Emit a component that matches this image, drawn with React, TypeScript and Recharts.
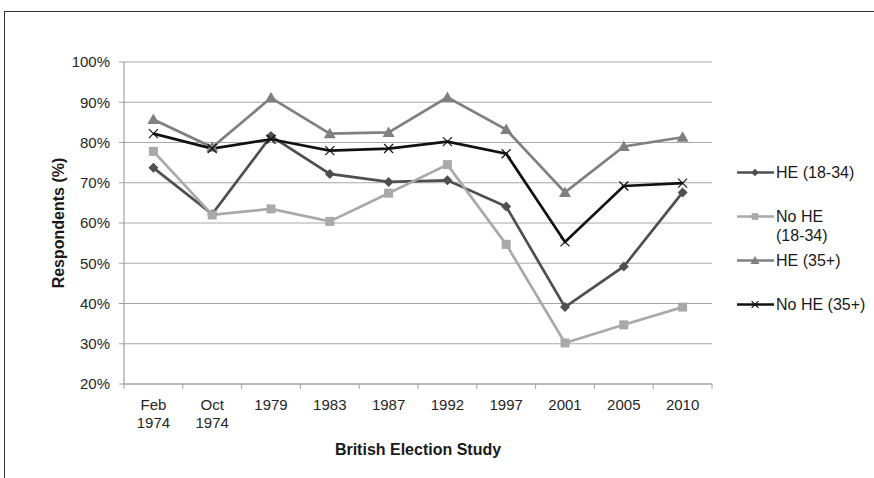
import React from "react";
import {
  LineChart,
  Line,
  XAxis,
  YAxis,
  CartesianGrid,
} from "recharts";

// British Election Study rounds
const studies = ["Feb 1974", "Oct 1974", "1979", "1983", "1987", "1992", "1997", "2001", "2005", "2010"];

// Respondents (%) per group
const heYoung = [73.7, 62.2, 81.6, 72.2, 70.2, 70.6, 64.1, 39.1, 49.2, 67.6];
const noHeYoung = [77.8, 62.0, 63.5, 60.4, 67.4, 74.5, 54.7, 30.2, 34.7, 39.1];
const heOld = [85.7, 78.8, 91.1, 82.2, 82.5, 91.2, 83.2, 67.6, 79.0, 81.3];
const noHeOld = [82.2, 78.5, 80.8, 78.0, 78.5, 80.2, 77.2, 55.3, 69.2, 69.9];

const yTicks = [20, 30, 40, 50, 60, 70, 80, 90, 100];

const FONT = '"Liberation Sans", Arial, sans-serif';

type Marker = "diamond" | "square" | "triangle" | "cross";

interface SeriesDef {
  key: string;
  name: string;
  color: string;
  marker: Marker;
  values: number[];
}

const series: SeriesDef[] = [
  { key: "heYoung", name: "HE (18-34)", color: "#4f4f4f", marker: "diamond", values: heYoung },
  { key: "noHeYoung", name: "No HE (18-34)", color: "#a9a9a9", marker: "square", values: noHeYoung },
  { key: "heOld", name: "HE (35+)", color: "#808080", marker: "triangle", values: heOld },
  { key: "noHeOld", name: "No HE (35+)", color: "#111111", marker: "cross", values: noHeOld },
];

const data = studies.map((study, i) => {
  const row: Record<string, string | number> = { study };
  series.forEach((s) => {
    row[s.key] = s.values[i];
  });
  return row;
});

function markerShape(marker: Marker, cx: number, cy: number, color: string, scale = 1, key?: string) {
  const d = 5 * scale;
  switch (marker) {
    case "diamond":
      return (
        <polygon
          key={key}
          points={`${cx},${cy - d} ${cx + d},${cy} ${cx},${cy + d} ${cx - d},${cy}`}
          fill={color}
        />
      );
    case "square":
      return <rect key={key} x={cx - 4.5 * scale} y={cy - 4.5 * scale} width={9 * scale} height={9 * scale} fill={color} />;
    case "triangle":
      return (
        <polygon
          key={key}
          points={`${cx},${cy - 6 * scale} ${cx + 6 * scale},${cy + 4.5 * scale} ${cx - 6 * scale},${cy + 4.5 * scale}`}
          fill={color}
        />
      );
    default:
      return (
        <g key={key} stroke={color} strokeWidth={1.2}>
          <line x1={cx - 4.5 * scale} y1={cy - 4.5 * scale} x2={cx + 4.5 * scale} y2={cy + 4.5 * scale} />
          <line x1={cx - 4.5 * scale} y1={cy + 4.5 * scale} x2={cx + 4.5 * scale} y2={cy - 4.5 * scale} />
        </g>
      );
  }
}

function StudyTick(props: any) {
  const { x, y, payload, index, visibleTicksCount } = props;
  const half = payload && payload.offset ? payload.offset : 29.4;
  const lines = String(payload.value).split(" ");
  const isLast = index === (visibleTicksCount ?? studies.length) - 1;
  return (
    <g>
      <line x1={x - half} y1={y} x2={x - half} y2={y + 5} stroke="#a0a0a0" />
      {isLast && <line x1={x + half} y1={y} x2={x + half} y2={y + 5} stroke="#a0a0a0" />}
      {lines.map((t, i) => (
        <text key={i} x={x} y={y + 26 + i * 18} textAnchor="middle" fill="#262626" fontSize={15} fontFamily={FONT}>
          {t}
        </text>
      ))}
    </g>
  );
}

function LegendBox() {
  return (
    <div style={{ position: "absolute", left: 737, top: 163, fontFamily: FONT, fontSize: 16, color: "#1a1a1a" }}>
      {series.map((s) => (
        <div key={s.key} style={{ display: "flex", alignItems: "flex-start", height: 44 }}>
          <svg width={37} height={19} style={{ flex: "none" }}>
            <line x1={0} y1={9.5} x2={37} y2={9.5} stroke={s.color} strokeWidth={2.5} />
            {markerShape(s.marker, 18, 9.5, s.color, 0.75)}
          </svg>
          <div style={{ width: 95, lineHeight: "19px", marginLeft: 2 }}>
            {s.name.split(" ").map((w, i) => (
              <React.Fragment key={i}>
                {i > 0 && " "}
                <span style={{ whiteSpace: "nowrap" }}>{w}</span>
              </React.Fragment>
            ))}
          </div>
        </div>
      ))}
    </div>
  );
}

export default function App() {
  return (
    <div style={{ position: "relative", width: 874, height: 478, background: "#fff", overflow: "hidden" }}>
      <style>{"body{margin:0}"}</style>
      <div
        style={{
          position: "absolute",
          left: 4,
          top: 11,
          right: 0,
          bottom: 0,
          borderTop: "1px solid #333",
          borderLeft: "1px solid #333",
        }}
      />
      <LineChart width={874} height={478} data={data} margin={{ top: 62, right: 162, left: 0, bottom: 0 }}>
        <CartesianGrid vertical={false} stroke="#a8a8a8" strokeWidth={1.2} />
        <XAxis
          dataKey="study"
          scale="band"
          height={94}
          axisLine={{ stroke: "#a0a0a0", strokeWidth: 1.2 }}
          tickLine={false}
          tickSize={0}
          tickMargin={0}
          interval={0}
          tick={<StudyTick />}
          label={{
            value: "British Election Study",
            position: "center",
            dy: 18,
            fontFamily: FONT,
            fontSize: 16,
            fontWeight: "bold",
            fill: "#1a1a1a",
          }}
        />
        <YAxis
          width={124}
          domain={[20, 100]}
          ticks={yTicks}
          tickFormatter={(v: number) => `${v}%`}
          axisLine={{ stroke: "#a0a0a0", strokeWidth: 1.2 }}
          tickLine={{ stroke: "#a0a0a0" }}
          tickSize={5}
          tickMargin={9}
          tick={{ fill: "#262626", fontSize: 15, fontFamily: FONT }}
          label={{
            value: "Respondents (%)",
            angle: -90,
            position: "center",
            dx: -4,
            fontFamily: FONT,
            fontSize: 16,
            fontWeight: "bold",
            fill: "#1a1a1a",
          }}
        />
        {series.map((s) => (
          <Line
            key={s.key}
            dataKey={s.key}
            name={s.name}
            type="linear"
            stroke={s.color}
            strokeWidth={2.7}
            isAnimationActive={false}
            activeDot={false}
            dot={(p: any) => markerShape(s.marker, p.cx, p.cy, s.color, 1, `${s.key}-${p.index}`)}
          />
        ))}
      </LineChart>
      <LegendBox />
    </div>
  );
}
